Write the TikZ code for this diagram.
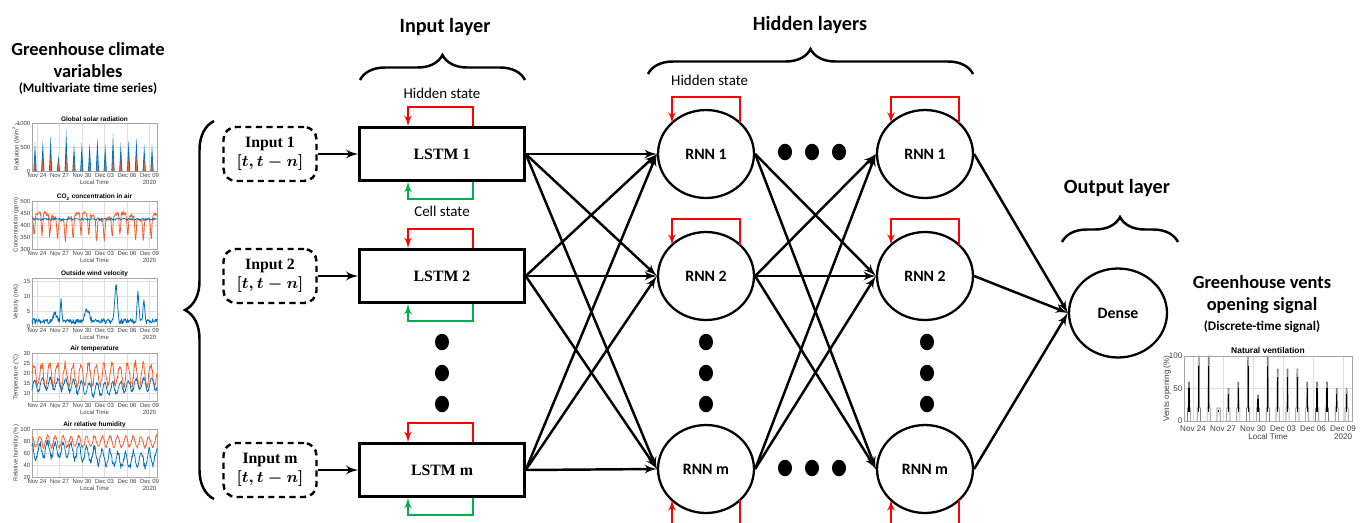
\documentclass[tikz,border=0pt]{standalone}
\usepackage{fontspec}
\usepackage{amsmath}
\setmainfont{Carlito}
\newfontfamily\cambria{Liberation Serif}
\newfontfamily\plotfont{Liberation Sans}
\usepackage{tikz}
\usetikzlibrary{shapes.geometric, arrows, positioning, calc, decorations.pathreplacing}

\definecolor{loopred}{RGB}{255,0,0}
\definecolor{loopgreen}{RGB}{0,176,80}
\definecolor{mblue}{RGB}{0,114,189}
\definecolor{morange}{RGB}{242,95,45}

\begin{document}
\begin{tikzpicture}[x=0.02cm, y=-0.02cm,
    input/.style={rectangle, rounded corners=7pt, draw, dashed, dash pattern=on 3.5pt off 2.5pt, line width=1.4pt, minimum width=1.86cm, minimum height=1.08cm, align=center, font=\cambria\bfseries\fontsize{9}{11}\selectfont},
    lstm/.style={rectangle, draw, line width=1.4pt, minimum width=3.3cm, minimum height=1.06cm, font=\cambria\bfseries\fontsize{9}{11}\selectfont},
    rnn/.style={ellipse, draw, line width=1.3pt, minimum width=1.92cm, minimum height=1.76cm, font=\bfseries\fontsize{9}{11}\selectfont},
    conn/.style={line width=1.4pt, -latex'},
    hidloop/.style={draw=loopred, line width=1.1pt, -latex'},
    cellloop/.style={draw=loopgreen, line width=1.1pt, -latex'},
    lbrace/.style={line width=1.4pt, decorate, decoration={brace, amplitude=0.5cm}},
    title/.style={font=\bfseries\fontsize{11.5}{13}\selectfont},
    sidetitle/.style={align=center, font=\bfseries\fontsize{10.5}{12.5}\selectfont},
    statelbl/.style={font=\fontsize{8.5}{10}\selectfont},
    plotframe/.style={draw=gray!70, line width=0.3pt},
    plotgrid/.style={draw=gray!25, line width=0.25pt},
    plottick/.style={inner sep=0.8pt, text=black!75, font=\plotfont\fontsize{3.4}{4}\selectfont},
    ventstick/.style={plottick, font=\plotfont\fontsize{4.6}{5}\selectfont},
    plottitle/.style={inner sep=0pt, font=\plotfont\bfseries\fontsize{3.7}{4}\selectfont},
    plotline/.style={line width=0.45pt, line join=round}]

    \useasboundingbox (0,0) rectangle (1362,522);
    \clip (0,0) rectangle (1362,522);

    % titles
    \node[sidetitle] (clim) at (88,60) {Greenhouse climate\\variables};
    \node[font=\bfseries\fontsize{7.5}{9}\selectfont] (climsub) at (88,89) {(Multivariate time series)};
    \node[title] (tin) at (445,27) {Input layer};
    \node[title] (thid) at (810,25) {Hidden layers};
    \node[title] (tout) at (1117,188) {Output layer};
    \node[sidetitle] (vents) at (1262,295) {Greenhouse vents\\opening signal};
    \node[font=\bfseries\fontsize{7.5}{9}\selectfont] (ventsub) at (1262,327) {(Discrete-time signal)};

    \draw[lbrace] (360,80) -- (525,80);
    \draw[lbrace] (648,74) -- (973,74);
    \draw[lbrace] (1062,242) -- (1178,242);
    \draw[lbrace, decoration={amplitude=0.58cm}] (214,499) -- (214,121);

    % input and LSTM column
    \foreach \r/\y in {1/154, 2/276, m/470} {
        \node[input] (in\r) at (270,\y) {Input \r\\$\boldsymbol{[t,t-n]}$};
        \node[lstm] (lstm\r) at (442,\y) {LSTM \r};
        \draw[conn] (in\r) -- (lstm\r);
        \draw[hidloop] ($(lstm\r.north)+(31,0)$) -- ++(0,-19) -| ($(lstm\r.north)+(-34,0)$);
        \draw[cellloop] ($(lstm\r.south)+(31,0)$) -- ++(0,17) -| ($(lstm\r.south)+(-34,0)$);
    }
    \node[statelbl] (hs1) at (442,93) {Hidden state};
    \node[statelbl] (cs1) at (442,211) {Cell state};
    \node[statelbl, anchor=west] (hs2) at (665,80) {Hidden state};

    % RNN columns
    \foreach \r/\y in {1/154, 2/276, m/469} {
        \node[rnn] (rnna\r) at (706,\y) {RNN \r};
        \node[rnn] (rnnb\r) at (925,\y) {RNN \r};
    }
    \node[rnn, minimum width=1.96cm, minimum height=1.78cm] (dense) at (1118,313) {Dense};

    \foreach \n in {rnna1, rnna2, rnnb1, rnnb2}
        \draw[hidloop] ($(\n)+(34,-31)$) -- ($(\n)+(34,-57)$) -| ($(\n)+(-34,-31)$);
    \foreach \n in {rnnam, rnnbm}
        \draw[hidloop] ($(\n)+(34,31)$) -- ($(\n)+(34,62)$) -| ($(\n)+(-34,31)$);

    \foreach \i in {1,2,m} {
        \foreach \j in {1,2,m}
            \draw[conn] (lstm\i.east) -- (rnna\j.west);
        \draw[conn] (rnnb\i.east) -- (dense.west);
    }
    \foreach \i/\j in {1/2, 1/m, 2/1, 2/2, 2/m, m/1, m/2}
        \draw[conn] (rnna\i.east) -- (rnnb\j.west);

    % dots
    \foreach \x in {442, 706, 927}
        \foreach \y in {342, 373, 404}
            \fill (\x,\y) ellipse [x radius=0.14cm, y radius=0.165cm];
    \foreach \x in {785, 812, 839}
        \foreach \y in {152, 468}
            \fill (\x,\y) ellipse [x radius=0.14cm, y radius=0.165cm];

    % climate plots
    \foreach \top/\ttl/\ylab/\ticks/\off/\st in {
        123/{Global solar radiation}/{Radiation (W/m\textsuperscript{2})}/{0,500,1000}/0/24,
        201/{CO\textsubscript{2} concentration in air}/{Concentration (ppm)}/{300,350,400,450,500}/0/12,
        278/{Outside wind velocity}/{Velocity (m/s)}/{0,5,10,15}/0/15,
        353/{Air temperature}/{Temperature (°C)}/{10,15,20,25,30}/8/10,
        429/{Air relative humidity}/{Relative humidity (\%)}/{20,40,60,80,100}/0/12}
    {
        \foreach \k in {0,...,5}
            \draw[plotgrid] ({37+22.5*\k},\top) -- ({37+22.5*\k},{\top+48});
        \foreach \v [count=\i from 0] in \ticks {
            \draw[plotgrid] (32,{\top+48-\off-\i*\st}) -- (157,{\top+48-\off-\i*\st});
            \node[plottick, anchor=east] at (32,{\top+48-\off-\i*\st}) {\v};
        }
        \draw[plotframe] (32,\top) rectangle (157,{\top+48});
        \node[plottitle] at (94.5,{\top-4}) {\ttl};
        \foreach \d [count=\k from 0] in {Nov 24, Nov 27, Nov 30, Dec 03, Dec 06, Dec 09}
            \node[plottick] at ({37+22.5*\k},{\top+52.5}) {\d};
        \node[plottick] at (94.5,{\top+59.5}) {Local Time};
        \node[plottick] at (149.5,{\top+59.5}) {2020};
        \node[plottick, rotate=90] at (16,{\top+24}) {\ylab};
    }

    \pgfmathsetseed{7}
    % solar radiation
    \foreach \a/\b [count=\d from 0] in {600/280, 650/300, 740/320, 330/200, 870/380, 580/250, 600/260, 580/250,
                                          700/300, 560/260, 780/380, 600/270, 650/300, 700/330, 560/270, 560/270} {
        \fill[mblue] ({35+7.8*\d-1.6},171) -- ({35+7.8*\d},{171-\a*0.048}) -- ({35+7.8*\d+1.6},171) -- cycle;
        \fill[morange] ({35+7.8*\d-0.8},171) -- ({35+7.8*\d},{171-\b*0.048}) -- ({35+7.8*\d+0.8},171) -- cycle;
    }
    % CO2
    \draw[morange, plotline] plot[domain=0:125, samples=200]
        ({32+\x}, {249-(436+14*sin(9*\x)+8*rand-95*(abs(sin(23.08*\x+40)))^14-300)*0.24});
    \draw[mblue, plotline] plot[domain=0:125, samples=160]
        ({32+\x}, {249-(424+5*rand-300)*0.24});
    % wind
    \draw[mblue, plotline] plot[domain=0:125, samples=250]
        ({32+\x}, {326-max(0.2, 1.6+0.9*rand+3*max(0,1-abs(\x-23)/4)+8*max(0,1-abs(\x-29)/1.5)
            +4*max(0,1-abs(\x-55)/5)+13*max(0,1-abs(\x-84)/3)+10*max(0,1-abs(\x-106)/2)+7*max(0,1-abs(\x-112)/2))*3});
    % temperature
    \draw[morange, plotline] plot[domain=0:125, samples=250]
        ({32+\x}, {401-(19+5.5*sin(46.15*\x)+2*rand-6)*2});
    \draw[mblue, plotline] plot[domain=0:125, samples=250]
        ({32+\x}, {401-(13+3*sin(46.15*\x-30)+1.5*sin(4*\x)+1*rand-6)*2});
    % humidity
    \draw[morange, plotline] plot[domain=0:125, samples=250]
        ({32+\x}, {477-(79+9*sin(46.15*\x+90)+3*rand-20)*0.6});
    \draw[mblue, plotline] plot[domain=0:125, samples=250]
        ({32+\x}, {477-(62+13*sin(46.15*\x+90)+6*sin(3*\x)+5*rand-0.08*\x-20)*0.6});

    % ventilation plot
    \foreach \k in {0,...,5}
        \draw[plotgrid] ({1193+30*\k},356) -- ({1193+30*\k},421);
    \draw[plotgrid] (1184,388.5) -- (1352,388.5);
    \foreach \h [count=\d from 0] in {60,100,100,20,50,60,100,40,100,80,80,80,60,60,60,50,50} {
        \draw[gray, line width=0.4pt] ({1189+9.85*\d-1.6},421) -- ++(0,-13) -- ++(0.9,0) -- ({1189+9.85*\d-0.5},{421-\h*0.65})
            -- ({1189+9.85*\d+0.5},{421-\h*0.65}) -- ({1189+9.85*\d+0.7},408) -- ++(0.9,0) -- ++(0,13);
        \draw[black, line width=0.7pt] ({1189+9.85*\d},412) -- ({1189+9.85*\d},{421-\h*0.55});
    }
    \draw[gray, line width=0.4pt] (1184,421) -- (1352,421);
    \draw[plotframe] (1184,356) rectangle (1352,421);
    \foreach \v/\y in {0/421, 50/388.5, 100/356}
        \node[ventstick, anchor=east] at (1184,\y) {\v};
    \node[plottitle, font=\plotfont\bfseries\fontsize{4.8}{5}\selectfont] at (1268,350.5) {Natural ventilation};
    \foreach \d [count=\k from 0] in {Nov 24, Nov 27, Nov 30, Dec 03, Dec 06, Dec 09}
        \node[ventstick] at ({1193+30*\k},428.5) {\d};
    \node[ventstick] at (1268,437) {Local Time};
    \node[ventstick] at (1343,437) {2020};
    \node[ventstick, rotate=90] at (1167,388.5) {Vents opening (\%)};
\end{tikzpicture}
\end{document}
